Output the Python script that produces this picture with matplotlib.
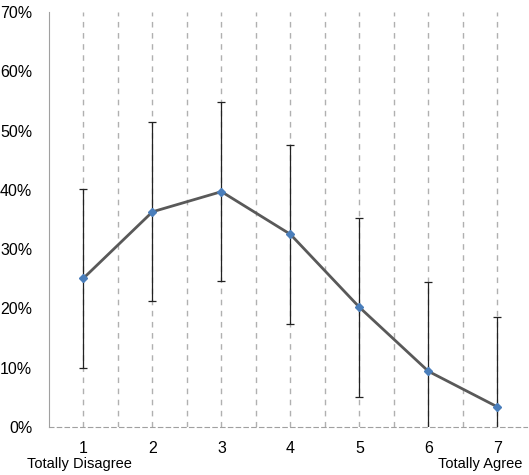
import matplotlib.pyplot as plt
from matplotlib.ticker import PercentFormatter

plt.rcParams['font.family'] = ['Liberation Sans', 'DejaVu Sans']

categories = [1, 2, 3, 4, 5, 6, 7]
means = [0.251, 0.363, 0.397, 0.325, 0.202, 0.094, 0.034]
errors = [0.151, 0.151, 0.151, 0.151, 0.151, 0.151, 0.151]
y_ticks = [0, 0.1, 0.2, 0.3, 0.4, 0.5, 0.6, 0.7]

fig = plt.figure(figsize=(5.29, 4.75), dpi=100)
ax = fig.add_axes([49 / 529, 48 / 475, 478 / 529, 415 / 475])

# vertical dashed grid at categories and between them
for c in categories:
    ax.axvline(c, color='#b0b0b0', linestyle=(0, (4, 4)), linewidth=1, zorder=0)
    if c < 7:
        ax.axvline(c + 0.5, color='#b0b0b0', linestyle=(0, (4, 4)), linewidth=1, zorder=0)

ax.errorbar(categories, means, yerr=errors, fmt='none', ecolor='#222222',
            elinewidth=0.9, capsize=3, capthick=0.9, zorder=2)
ax.plot(categories, means, color='#595959', linewidth=2, zorder=3)
ax.plot(categories, means, linestyle='none', marker='D', markersize=4.5,
        color='#4a7ebb', zorder=4)

ax.set_xlim(0.5, 7.43)
ax.set_ylim(0, 0.7)
ax.set_yticks(y_ticks)
ax.yaxis.set_major_formatter(PercentFormatter(1.0, decimals=0))
ax.set_xticks(categories)
ax.set_xticklabels([str(c) for c in categories])
ax.tick_params(length=0, labelsize=11.5, pad=10)
ax.tick_params(axis='y', pad=12)

for s in ['top', 'right']:
    ax.spines[s].set_visible(False)
ax.spines['left'].set_color('#a0a0a0')
ax.spines['bottom'].set_color('#a0a0a0')
ax.spines['bottom'].set_linestyle((0, (4, 3)))

fig.text(27 / 529, 1 - 464 / 475, 'Totally Disagree', fontsize=10.5, va='center', ha='left')
fig.text(522 / 529, 1 - 464 / 475, 'Totally Agree', fontsize=10.5, va='center', ha='right')

fig.savefig('out.png', dpi=100)
